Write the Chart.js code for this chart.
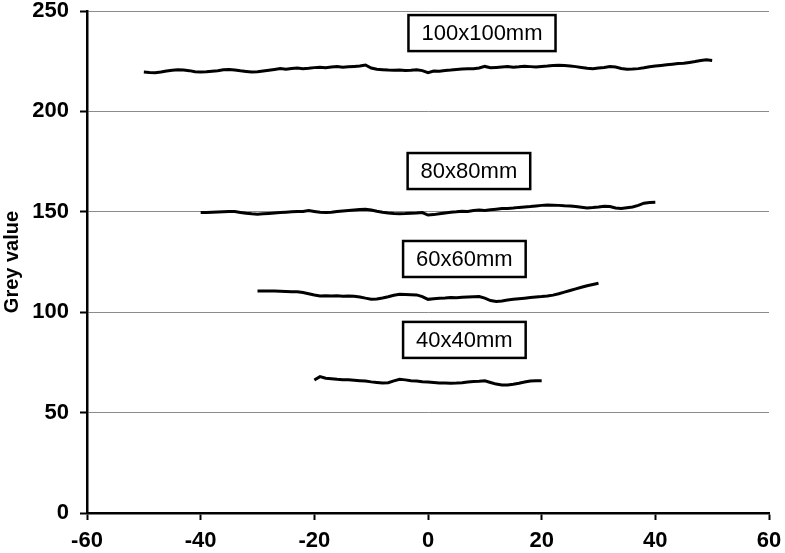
<!DOCTYPE html>
<html>
<head>
<meta charset="utf-8">
<script src="https://cdn.jsdelivr.net/npm/chart.js@4/dist/chart.umd.min.js"></script>
<style>
html,body{margin:0;padding:0;background:#fff;}
#wrap{width:785px;height:553px;position:relative;}
</style>
</head>
<body>
<div id="wrap"><canvas id="c" width="785" height="553"></canvas></div>
<script>
// X tick labels
const xTicks = [-60, -40, -20, 0, 20, 40, 60];
const yTicks = [0, 50, 100, 150, 200, 250];

// Series: grey value profiles (x in mm, one value per mm)
const x100Start = -50;
const grey100 = [219.6,219.4,219.3,219.6,220.1,220.5,220.8,220.6,220.3,219.8,
  219.6,219.7,220.0,220.3,220.7,220.9,220.6,220.2,219.9,219.6,
  219.7,220.1,220.5,220.9,221.3,221.0,221.4,221.6,221.3,221.5,
  221.8,222.0,221.8,222.1,222.3,222.0,222.2,222.4,222.6,223.1,
  221.6,221.0,220.8,220.6,220.5,220.6,220.4,220.5,220.7,220.3,
  219.3,220.1,220.0,220.4,220.6,220.9,221.1,221.3,221.2,221.6,
  222.4,221.7,221.9,222.1,222.3,222.0,222.2,222.5,222.3,222.1,
  222.4,222.6,222.9,223.0,222.8,222.6,222.3,221.9,221.5,221.3,
  221.6,221.9,222.3,222.1,221.4,221.0,221.1,221.3,221.7,222.2,
  222.6,222.9,223.2,223.5,223.8,224.0,224.4,224.8,225.3,225.7,225.4];

const x80Start = -40;
const grey80 = [149.6,149.7,149.8,149.9,150.0,150.1,150.1,149.7,149.3,149.0,
  148.8,149.0,149.2,149.4,149.6,149.8,150.0,150.2,150.1,150.6,
  150.2,149.8,149.6,149.8,150.1,150.4,150.7,150.9,151.1,151.3,
  150.9,150.3,149.8,149.4,149.1,149.0,149.1,149.3,149.4,149.6,
  148.4,148.6,149.0,149.4,149.8,150.0,150.3,150.2,150.6,150.9,
  150.7,151.0,151.3,151.6,151.7,151.9,152.2,152.4,152.6,152.9,
  153.2,153.4,153.3,153.2,153.0,152.9,152.6,152.3,151.9,152.1,
  152.4,152.8,152.6,151.9,151.6,152.0,152.4,153.2,154.3,154.6,154.7];

const x60Start = -30;
const grey60 = [110.6,110.6,110.5,110.5,110.4,110.3,110.2,110.2,109.8,109.2,
  108.6,108.1,108.2,108.1,108.2,108.0,108.1,107.9,107.6,107.0,
  106.5,106.6,107.1,107.7,108.4,108.9,108.8,108.7,108.6,107.8,
  106.4,106.7,107.0,107.1,107.3,107.2,107.4,107.6,107.7,107.8,
  107.0,105.8,105.3,105.6,106.1,106.4,106.7,107.0,107.3,107.6,
  107.8,108.1,108.5,109.2,110.0,110.8,111.6,112.4,113.2,113.8,114.4];

const x40Start = -20;
const grey40 = [66.2,67.9,67.1,66.9,66.6,66.4,66.3,66.1,65.9,65.7,
  65.3,65.0,64.7,64.9,65.8,66.6,66.3,65.9,65.7,65.4,
  65.2,65.0,64.8,64.7,64.6,64.7,64.9,65.2,65.5,65.6,
  65.8,65.0,64.2,63.7,63.8,64.1,64.6,65.2,65.7,65.9,65.9];

const seriesNames = ["100x100mm", "80x80mm", "60x60mm", "40x40mm"];

function toPoints(start, vals){
  return vals.map((v,i)=>({x:start+i, y:v}));
}

// label annotation anchors (data coordinates of box centres)
const labelAnchors = {
  "100x100mm": {x: 9.5, y: 239},
  "80x80mm": {x: 7.2, y: 170.3},
  "60x60mm": {x: 6.4, y: 126.5},
  "40x40mm": {x: 6.4, y: 86.2}
};

const boxLabelPlugin = {
  id: 'boxLabels',
  afterDatasetsDraw(chart){
    const ctx = chart.ctx;
    const xs = chart.scales.x, ys = chart.scales.y;
    ctx.save();
    ctx.font = '22px "Liberation Sans", Arial, sans-serif';
    ctx.textAlign = 'center';
    ctx.textBaseline = 'middle';
    seriesNames.forEach(name=>{
      const a = labelAnchors[name];
      const cx = xs.getPixelForValue(a.x);
      const cy = ys.getPixelForValue(a.y);
      const w = ctx.measureText(name).width + 26;
      const h = 36;
      ctx.fillStyle = '#fff';
      ctx.fillRect(cx-w/2, cy-h/2, w, h);
      ctx.lineWidth = 2.5;
      ctx.strokeStyle = '#000';
      ctx.strokeRect(cx-w/2, cy-h/2, w, h);
      ctx.fillStyle = '#000';
      ctx.fillText(name, cx, cy+1);
    });
    ctx.restore();
  }
};

const tickFont = {family: '"Liberation Sans", Arial, sans-serif', size: 22, weight: 'bold'};

new Chart(document.getElementById('c'), {
  type: 'scatter',
  data: {
    datasets: [
      {label: seriesNames[0], data: toPoints(x100Start, grey100)},
      {label: seriesNames[1], data: toPoints(x80Start, grey80)},
      {label: seriesNames[2], data: toPoints(x60Start, grey60)},
      {label: seriesNames[3], data: toPoints(x40Start, grey40)}
    ].map(d=>Object.assign(d, {showLine:true, pointRadius:0, borderColor:'#000', borderWidth:3, tension:0, fill:false}))
  },
  options: {
    responsive: false,
    animation: false,
    events: [],
    layout: {padding: {top: 11, right: 16, left: 0, bottom: 0}},
    plugins: {legend: {display:false}, tooltip: {enabled:false}},
    scales: {
      x: {
        type: 'linear', min: -60, max: 60,
        afterBuildTicks(scale){ scale.ticks = xTicks.map(v=>({value:v})); },
        afterFit(scale){ scale.height = 40; scale.paddingLeft = 0; scale.paddingRight = 0; },
        grid: {drawOnChartArea:false, drawTicks:true, tickLength:7, tickColor:'#000', tickWidth:2},
        border: {color:'#000', width:2.5},
        ticks: {color:'#000', font: tickFont, padding: 8, maxRotation:0, autoSkip:false}
      },
      y: {
        type: 'linear', min: 0, max: 250,
        afterBuildTicks(scale){ scale.ticks = yTicks.map(v=>({value:v})); },
        afterFit(scale){ scale.width = 87; scale.paddingTop = 0; scale.paddingBottom = 0; },
        grid: {color:'#8c8c8c', lineWidth:1, drawTicks:true, tickLength:7, tickColor:'#000', tickWidth:2},
        border: {color:'#000', width:2.5},
        title: {display:true, text:'Grey value', color:'#000', font:{family:'"Liberation Sans", Arial, sans-serif', size:20, weight:'bold'}, padding:{top:0,bottom:0}},
        ticks: {color:'#000', font: tickFont, padding: 11}
      }
    }
  },
  plugins: [boxLabelPlugin]
});
</script>
</body>
</html>
